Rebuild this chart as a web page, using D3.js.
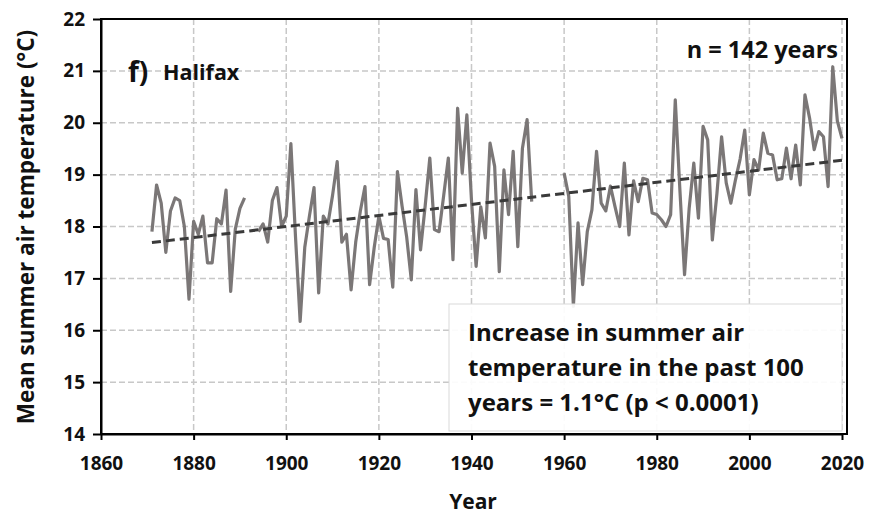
<!DOCTYPE html>
<meta charset="utf-8">
<style>
  body { margin: 0; background: #fff; }
  text { font-family: "Open Sans", "DejaVu Sans", sans-serif; font-weight: bold; fill: #111; }
</style>
<body>
<script src="https://cdn.jsdelivr.net/npm/d3@7"></script>
<script>

var width = 873,
    height = 516;

// Halifax, mean summer air temperature per year (null = no record)
var years = [1871,1872,1873,1874,1875,1876,1877,1878,1879,1880,
  1881,1882,1883,1884,1885,1886,1887,1888,1889,1890,1891,1892,1893,1894,1895,1896,1897,1898,1899,1900,
  1901,1902,1903,1904,1905,1906,1907,1908,1909,1910,1911,1912,1913,1914,1915,1916,1917,1918,1919,1920,
  1921,1922,1923,1924,1925,1926,1927,1928,1929,1930,1931,1932,1933,1934,1935,1936,1937,1938,1939,1940,
  1941,1942,1943,1944,1945,1946,1947,1948,1949,1950,1951,1952,1953,1954,1955,1956,1957,1958,1959,1960,
  1961,1962,1963,1964,1965,1966,1967,1968,1969,1970,1971,1972,1973,1974,1975,1976,1977,1978,1979,1980,
  1981,1982,1983,1984,1985,1986,1987,1988,1989,1990,1991,1992,1993,1994,1995,1996,1997,1998,1999,2000,
  2001,2002,2003,2004,2005,2006,2007,2008,2009,2010,2011,2012,2013,2014,2015,2016,2017,2018,2019,2020];

var temps = [17.9,18.8,18.45,17.5,18.3,18.55,18.5,18.0,16.6,18.1,
  17.85,18.2,17.3,17.3,18.15,18.05,18.7,16.75,17.95,18.35,18.55,null,null,17.9,18.05,17.7,18.5,18.75,18.0,18.2,
  19.6,17.8,16.17,17.6,18.2,18.75,16.72,18.2,18.05,18.6,19.25,17.7,17.85,16.78,17.7,18.3,18.77,16.88,17.6,18.2,
  17.77,17.75,16.83,19.06,18.4,17.8,16.97,18.71,17.55,18.4,19.32,17.94,17.9,18.6,19.32,17.36,20.28,19.03,20.15,18.5,
  17.23,18.38,17.78,19.61,19.16,17.13,19.09,18.23,19.45,17.61,19.51,20.06,18.48,null,null,null,null,null,null,19.03,
  18.58,16.46,18.07,16.88,17.9,18.32,19.45,18.45,18.3,18.78,18.38,18.0,19.22,17.84,18.88,18.48,18.93,18.9,18.26,18.23,
  18.13,18.0,18.23,20.44,18.7,17.07,18.35,19.22,18.16,19.93,19.67,17.74,18.64,19.73,18.84,18.45,18.9,19.3,19.86,18.61,
  19.29,19.09,19.8,19.41,19.38,18.9,18.92,19.51,18.92,19.57,18.8,20.54,20.09,19.48,19.83,19.73,18.77,21.08,20.03,19.7];

var xTicks = [1860,1880,1900,1920,1940,1960,1980,2000,2020];
var yTicks = [14,15,16,17,18,19,20,21,22];
var noteLines = ["Increase in summer air", "temperature in the past 100", "years = 1.1\u00b0C (p < 0.0001)"];

var data = years.map(function(y, i) { return {year: y, t: temps[i]}; });

var svg = d3.select("body").append("svg")
    .attr("width", width)
    .attr("height", height);

var x = d3.scaleLinear().domain([1860, 2020]).range([101, 842]);
var y = d3.scaleLinear().domain([14, 22]).range([434, 19]);

// grid
var grid = svg.append("g");
grid.selectAll(".hg").data(yTicks.slice(1, -1)).enter().append("line")
    .attr("x1", 101).attr("x2", 847)
    .attr("y1", function(d) { return y(d); }).attr("y2", function(d) { return y(d); })
    .attr("stroke", "#c8c8c8").attr("stroke-width", 1.5).attr("stroke-dasharray", "6,3");
grid.selectAll(".vg").data(xTicks.slice(1)).enter().append("line")
    .attr("y1", 19).attr("y2", 434)
    .attr("x1", function(d) { return x(d); }).attr("x2", function(d) { return x(d); })
    .attr("stroke", "#c8c8c8").attr("stroke-width", 1.5).attr("stroke-dasharray", "6,3");

// linear trend (least squares on the record)
var pts = data.filter(function(d) { return d.t != null; });
var mx = d3.mean(pts, function(d) { return d.year; }),
    my = d3.mean(pts, function(d) { return d.t; });
var slope = d3.sum(pts, function(d) { return (d.year - mx) * (d.t - my); }) /
            d3.sum(pts, function(d) { return (d.year - mx) * (d.year - mx); });
var trend = [1871, 2020].map(function(yr) { return {year: yr, t: my + slope * (yr - mx)}; });

var line = d3.line()
    .defined(function(d) { return d.t != null; })
    .x(function(d) { return x(d.year); })
    .y(function(d) { return y(d.t); });

svg.append("path").datum(data)
    .attr("d", line)
    .attr("fill", "none")
    .attr("stroke", "#7b7777")
    .attr("stroke-width", 3.2)
    .attr("stroke-linejoin", "round");

svg.append("path").datum(trend)
    .attr("d", line)
    .attr("fill", "none")
    .attr("stroke", "#3a3a3a")
    .attr("stroke-width", 3)
    .attr("stroke-dasharray", "9,5");

// note box
svg.append("rect")
    .attr("x", 449).attr("y", 304).attr("width", 393).attr("height", 127)
    .attr("fill", "#fff").attr("fill-opacity", 0.92)
    .attr("stroke", "#d9d9d9").attr("stroke-width", 1);
svg.append("g").selectAll("text").data(noteLines).enter().append("text")
    .attr("x", 468)
    .attr("y", function(d, i) { return 341 + i * 35; })
    .attr("font-size", 24)
    .text(function(d) { return d; });

// frame
svg.append("rect")
    .attr("x", 101).attr("y", 19).attr("width", 746).attr("height", 415)
    .attr("fill", "none").attr("stroke", "#000").attr("stroke-width", 2);

// axes
var xAxis = svg.append("g")
    .attr("transform", "translate(0,434)")
    .call(d3.axisBottom(x).tickValues(xTicks).tickFormat(d3.format("d")).tickSizeInner(6).tickSizeOuter(0).tickPadding(17));
var yAxis = svg.append("g")
    .attr("transform", "translate(101,0)")
    .call(d3.axisLeft(y).tickValues(yTicks).tickSizeInner(8).tickSizeOuter(0).tickPadding(8));
[xAxis, yAxis].forEach(function(a) {
  a.select(".domain").attr("stroke", "#000").attr("stroke-width", 2);
  a.selectAll(".tick line").attr("stroke", "#000").attr("stroke-width", 2);
  a.selectAll(".tick text").attr("font-size", 19).attr("font-family", "Open Sans").attr("font-weight", "bold").attr("fill", "#111");
});

// titles
svg.append("text")
    .attr("x", 473).attr("y", 509)
    .attr("text-anchor", "middle")
    .attr("font-size", 21)
    .text("Year");
svg.append("text")
    .attr("transform", "translate(34,227) rotate(-90)")
    .attr("text-anchor", "middle")
    .attr("font-size", 22.5)
    .text("Mean summer air temperature (\u00b0C)");

svg.append("text")
    .attr("x", 128).attr("y", 82)
    .attr("font-size", 28)
    .text("f)");
svg.append("text")
    .attr("x", 163).attr("y", 80)
    .attr("font-size", 21.5)
    .text("Halifax");
svg.append("text")
    .attr("x", 838).attr("y", 58)
    .attr("text-anchor", "end")
    .attr("font-size", 23.5)
    .text("n = 142 years");

</script>
</body>
